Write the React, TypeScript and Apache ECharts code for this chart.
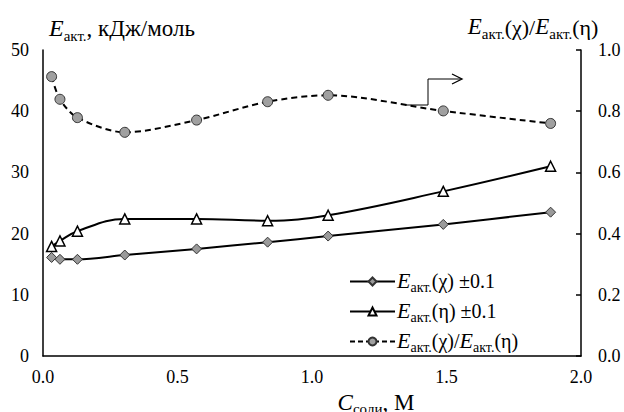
import React, { useEffect, useRef } from "react";
import * as echarts from "echarts";

const xValues = [0.032, 0.063, 0.128, 0.304, 0.571, 0.835, 1.06, 1.488, 1.887];
const eChi = [16.1, 15.8, 15.8, 16.5, 17.5, 18.6, 19.6, 21.5, 23.5];
const eEta = [17.9, 18.8, 20.4, 22.4, 22.4, 22.1, 23.0, 26.9, 31.0];
const ratio = [0.913, 0.839, 0.779, 0.731, 0.771, 0.831, 0.852, 0.801, 0.76];

const seriesNames = ["Eакт.(χ) ±0.1", "Eакт.(η) ±0.1", "Eакт.(χ)/Eакт.(η)"];
const legendRich = [
  "{e|E}{s|акт.}{n|(χ) ±0.1}",
  "{e|E}{s|акт.}{n|(η) ±0.1}",
  "{e|E}{s|акт.}{n|(χ)/}{e|E}{s|акт.}{n|(η)}",
];

const FONT = "Liberation Serif";

function richStyles(eSize: number, sSize: number, nSize: number) {
  return {
    e: { fontStyle: "italic", fontSize: eSize, fontFamily: FONT, color: "#000", verticalAlign: "bottom", padding: [0, 0, 3, 0] },
    s: { fontSize: sSize, fontFamily: FONT, color: "#000", verticalAlign: "bottom", padding: [0, 0, 0, 0] },
    n: { fontSize: nSize, fontFamily: FONT, color: "#000", verticalAlign: "bottom", padding: [0, 0, 3, 0] },
  };
}

export default function App() {
  const ref = useRef<HTMLDivElement>(null);
  useEffect(() => {
    if (!ref.current) return;
    const chart = echarts.init(ref.current, undefined, { renderer: "svg" });
    const pts = (ys: number[]) => xValues.map((x, i) => [x, ys[i]]);
    const axisLine = { show: true, lineStyle: { color: "#000", width: 1.5 } };
    const labelBase = { color: "#000", fontSize: 18, fontFamily: FONT };
    chart.setOption({
      animation: false,
      backgroundColor: "#fff",
      textStyle: { fontFamily: FONT },
      grid: { left: 43, right: 43, top: 50, bottom: 56, containLabel: false, outerBoundsMode: "none" },
      xAxis: {
        type: "value",
        min: 0,
        max: 2,
        interval: 0.5,
        axisLine,
        axisTick: { show: false },
        splitLine: { show: false },
        axisLabel: { ...labelBase, margin: 12, formatter: (v: number) => v.toFixed(1) },
        name: "{c|C}{s|соли}{n|, M}",
        nameLocation: "middle",
        nameGap: 29,
        nameTextStyle: {
          fontFamily: FONT,
          padding: [0, 0, 0, 128],
          rich: {
            c: { fontStyle: "italic", fontSize: 23, fontFamily: FONT, color: "#000", verticalAlign: "bottom", padding: [0, 0, 3, 0] },
            s: { fontSize: 15, fontFamily: FONT, color: "#000", verticalAlign: "bottom" },
            n: { fontSize: 23, fontFamily: FONT, color: "#000", verticalAlign: "bottom", padding: [0, 0, 3, 0] },
          },
        },
      },
      yAxis: [
        {
          type: "value",
          min: 0,
          max: 50,
          interval: 10,
          axisLine,
          axisTick: { show: false },
          splitLine: { show: false },
          axisLabel: { ...labelBase, margin: 14 },
          name: "{e|E}{s|акт.}{n|, кДж/моль}",
          nameLocation: "end",
          nameGap: 7,
          nameTextStyle: { fontFamily: FONT, align: "left", padding: [0, 0, 0, 6], rich: richStyles(24, 15, 23) },
        },
        {
          type: "value",
          min: 0,
          max: 1,
          interval: 0.2,
          position: "right",
          axisLine,
          axisTick: { show: true, inside: true, length: 5, lineStyle: { color: "#000", width: 1.5 } },
          splitLine: { show: false },
          axisLabel: { ...labelBase, margin: 17, formatter: (v: number) => v.toFixed(1) },
          name: legendRich[2],
          nameLocation: "end",
          nameGap: 7,
          nameTextStyle: { fontFamily: FONT, align: "center", padding: [0, 96, 0, 0], rich: richStyles(23, 15, 22) },
        },
      ],
      legend: {
        orient: "vertical",
        left: 344,
        top: 264,
        itemWidth: 45,
        itemHeight: 10,
        itemGap: 5,
        data: [
          { name: seriesNames[0] },
          { name: seriesNames[1] },
          { name: seriesNames[2], lineStyle: { type: [5, 3], width: 2 } },
        ],
        formatter: (name: string) => legendRich[seriesNames.indexOf(name)],
        textStyle: { fontFamily: FONT, padding: [0, 0, 0, -3], rich: richStyles(22, 14, 20) },
      },
      series: [
        {
          name: seriesNames[0],
          type: "line",
          yAxisIndex: 0,
          data: pts(eChi),
          smooth: 0.3,
          symbol: "diamond",
          symbolSize: 10,
          lineStyle: { color: "#000", width: 2 },
          itemStyle: { color: "#9a9a9a", borderColor: "#333", borderWidth: 1 },
        },
        {
          name: seriesNames[1],
          type: "line",
          yAxisIndex: 0,
          data: pts(eEta),
          smooth: 0.4,
          symbol: "triangle",
          symbolSize: 10,
          lineStyle: { color: "#000", width: 2 },
          itemStyle: { color: "#fff", borderColor: "#000", borderWidth: 1.5 },
        },
        {
          name: seriesNames[2],
          type: "line",
          yAxisIndex: 1,
          data: pts(ratio),
          smooth: 0.3,
          symbol: "circle",
          symbolSize: 10,
          lineStyle: { color: "#000", width: 2, type: [6, 4] },
          itemStyle: { color: "#a0a0a0", borderColor: "#333", borderWidth: 1 },
        },
      ],
      graphic: [
        {
          type: "polyline",
          shape: { points: [[405, 105], [428, 105], [428, 79], [461, 79]] },
          style: { stroke: "#000", lineWidth: 1, fill: "none" },
        },
        {
          type: "polyline",
          shape: { points: [[452, 74], [462, 79], [452, 84]] },
          style: { stroke: "#000", lineWidth: 1.3, fill: "none" },
        },
      ],
    });
    return () => chart.dispose();
  }, []);
  return (
    <div
      ref={ref}
      style={{ position: "fixed", left: 0, top: 0, width: 624, height: 412, background: "#fff" }}
    />
  );
}
